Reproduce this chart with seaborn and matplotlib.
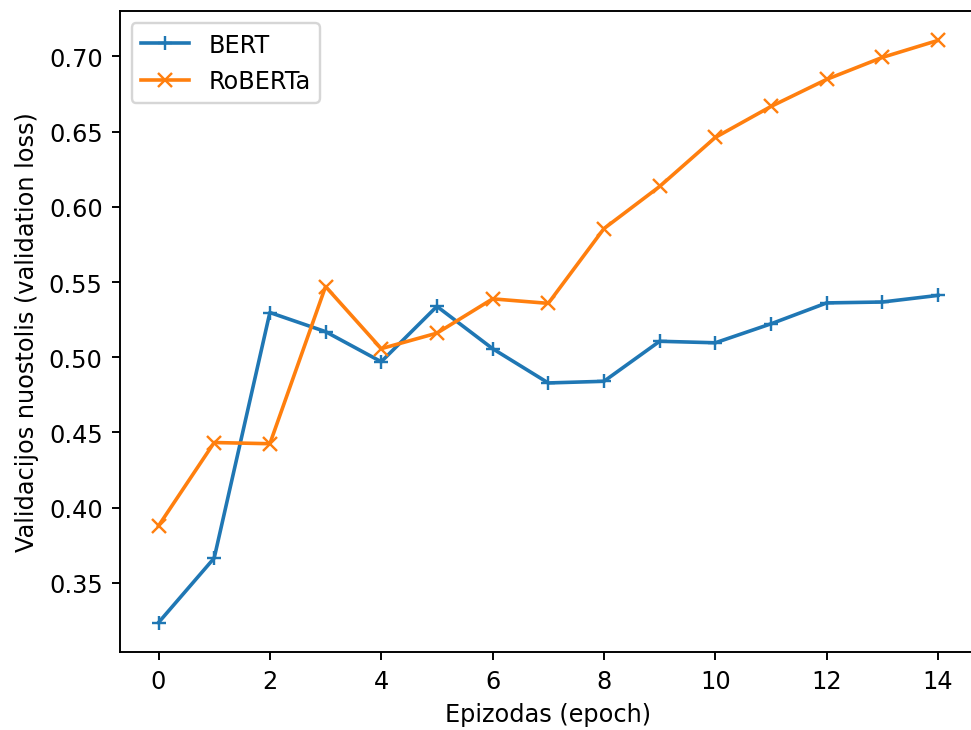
import matplotlib
matplotlib.use("Agg")
import matplotlib.pyplot as plt
import seaborn as sns
import pandas as pd

epochs = list(range(15))
bert_loss = [0.3236, 0.3665, 0.5297, 0.5170, 0.4970, 0.5338, 0.5057, 0.4829, 0.4840, 0.5106, 0.5096, 0.5222, 0.5361, 0.5367, 0.5411]
roberta_loss = [0.3879, 0.4433, 0.4425, 0.5470, 0.5057, 0.5160, 0.5388, 0.5358, 0.5855, 0.6135, 0.6461, 0.6667, 0.6847, 0.6993, 0.7106]
series_names = ["BERT", "RoBERTa"]
x_label = "Epizodas (epoch)"
y_label = "Validacijos nuostolis (validation loss)"

df = pd.DataFrame({"epoch": epochs, "BERT": bert_loss, "RoBERTa": roberta_loss})

DPI = 173
fig, ax = plt.subplots(figsize=(971 / DPI, 731 / DPI), dpi=DPI)
fig.subplots_adjust(left=0.1231, right=1.0062, top=0.9832, bottom=0.1071)

colors = ["#1f77b4", "#ff7f0e"]
markers = ["+", "x"]
for name, c, m in zip(series_names, colors, markers):
    sns.lineplot(data=df, x="epoch", y=name, ax=ax, color=c, marker=m,
                 markersize=6, markeredgewidth=1.0, markeredgecolor=c,
                 linewidth=1.5, label=name)

ax.set_xlabel(x_label)
ax.set_ylabel(y_label)
ax.set_xticks([0, 2, 4, 6, 8, 10, 12, 14])
ax.legend(loc="upper left")

fig.savefig("out.png", dpi=DPI)
